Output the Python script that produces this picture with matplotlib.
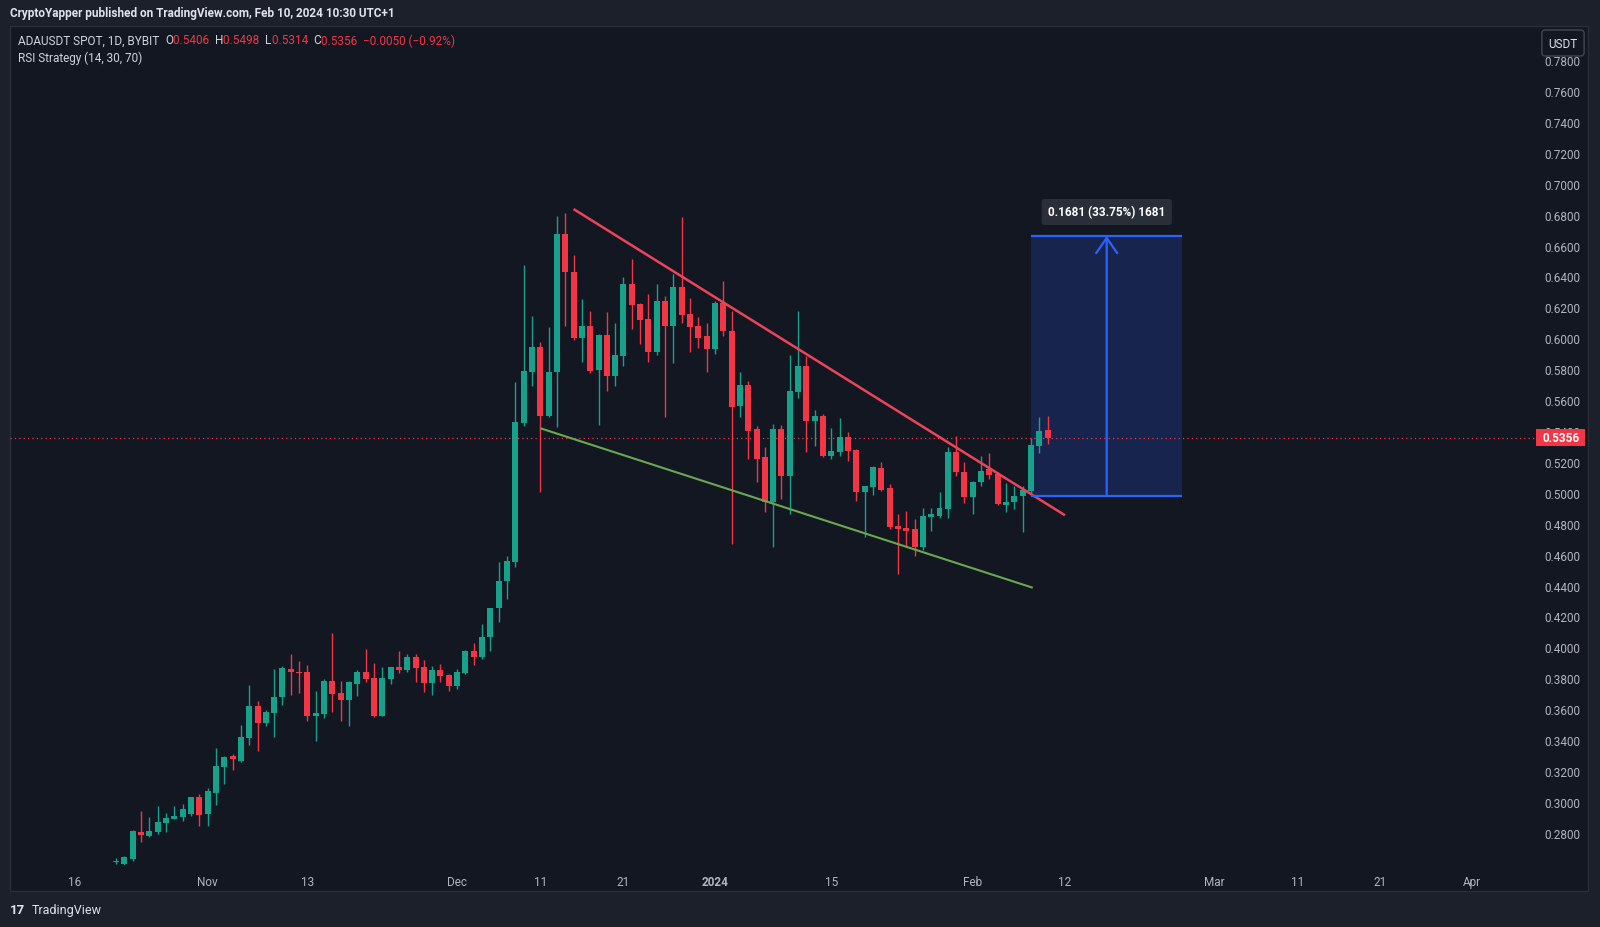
import matplotlib
matplotlib.use("Agg")
import matplotlib.pyplot as plt
import matplotlib.dates as mdates
import matplotlib.patches as patches
import pandas as pd
import numpy as np

plt.rcParams['font.family'] = ['Roboto', 'DejaVu Sans']

# ---- daily candles ADAUSDT (Oct 21 2023 .. Feb 10 2024) ----
dates = pd.date_range("2023-10-21", "2024-02-10", freq="D")
opens = [0.2612, 0.2600, 0.2630, 0.2807, 0.2781, 0.2803, 0.2863, 0.2889, 0.2900, 0.2921, 0.3034,
         0.2921, 0.3061, 0.3223, 0.3299, 0.3266, 0.3411, 0.3622, 0.3510, 0.3573, 0.3676,
         0.3860, 0.3842, 0.3838, 0.3558, 0.3569, 0.3784, 0.3704, 0.3661, 0.3762, 0.3838,
         0.3801, 0.3558, 0.3795, 0.3874, 0.3855, 0.3939, 0.3874, 0.3769, 0.3855, 0.3821,
         0.3752, 0.3834, 0.3978, 0.3941, 0.4064, 0.4252, 0.4427, 0.4550, 0.5451, 0.5784,
         0.5945, 0.5499, 0.5779, 0.6675, 0.6426, 0.5999, 0.6081, 0.5797, 0.6021, 0.5758,
         0.5887, 0.6351, 0.6222, 0.6125, 0.5909, 0.6243, 0.6081, 0.6329, 0.6157, 0.6081, 0.6012,
         0.5930, 0.6228, 0.6049, 0.5560, 0.5698, 0.5413, 0.5230, 0.4943, 0.5413, 0.5111,
         0.5655, 0.5819, 0.5467, 0.5500, 0.5241, 0.5267, 0.5359, 0.5280, 0.5008, 0.5036,
         0.5159, 0.5030, 0.4783, 0.4773, 0.4766, 0.4648, 0.4842, 0.4852, 0.4896, 0.5267, 0.5137,
         0.4971, 0.5068, 0.5154, 0.5122, 0.4922, 0.4939, 0.4978, 0.5014, 0.5305, 0.5406]
highs = [0.2640, 0.2650, 0.2820, 0.2943, 0.2900, 0.2971, 0.2926, 0.2971, 0.2986, 0.3033, 0.3051,
         0.3087, 0.3346, 0.3299, 0.3309, 0.3497, 0.3756, 0.3655, 0.3596, 0.3860, 0.3881,
         0.3957, 0.3913, 0.3885, 0.3719, 0.3795, 0.4092, 0.3784, 0.3784, 0.3855, 0.3989,
         0.3898, 0.3870, 0.3875, 0.3974, 0.3957, 0.3957, 0.3920, 0.3881, 0.3892, 0.3827,
         0.3860, 0.3985, 0.4028, 0.4151, 0.4258, 0.4554, 0.4589, 0.5719, 0.6474, 0.6146,
         0.5978, 0.6071, 0.6789, 0.6810, 0.6539, 0.6254, 0.6178, 0.6030, 0.6168, 0.6099,
         0.6394, 0.6513, 0.6228, 0.6286, 0.6351, 0.6275, 0.6416, 0.6782, 0.6258, 0.6135, 0.6099,
         0.6243, 0.6373, 0.6178, 0.5784, 0.5726, 0.5435, 0.5295, 0.5446, 0.5439, 0.5892,
         0.6179, 0.5888, 0.5538, 0.5510, 0.5418, 0.5482, 0.5396, 0.5284, 0.5047, 0.5176,
         0.5202, 0.5058, 0.4863, 0.4885, 0.4831, 0.4900, 0.4900, 0.5003, 0.5295, 0.5370, 0.5202,
         0.5079, 0.5241, 0.5258, 0.5133, 0.5064, 0.5047, 0.5047, 0.5352, 0.5488, 0.5498]
lows = [0.2600, 0.2595, 0.2620, 0.2738, 0.2770, 0.2795, 0.2803, 0.2889, 0.2878, 0.2910, 0.2846,
        0.2842, 0.2979, 0.3115, 0.3208, 0.3260, 0.3368, 0.3331, 0.3489, 0.3417, 0.3627,
        0.3691, 0.3704, 0.3525, 0.3396, 0.3540, 0.3583, 0.3525, 0.3489, 0.3687, 0.3773,
        0.3548, 0.3553, 0.3762, 0.3834, 0.3842, 0.3778, 0.3713, 0.3691, 0.3778, 0.3719,
        0.3730, 0.3830, 0.3885, 0.3924, 0.3978, 0.4166, 0.4312, 0.4522, 0.5434, 0.5693,
        0.5003, 0.5488, 0.5423, 0.6081, 0.5990, 0.5848, 0.5775, 0.5439, 0.5661, 0.5689,
        0.5818, 0.6060, 0.5963, 0.5848, 0.5892, 0.5488, 0.5840, 0.6099, 0.5909, 0.5935, 0.5784,
        0.5898, 0.6017, 0.4669, 0.5489, 0.5219, 0.5068, 0.4874, 0.4648, 0.4960, 0.4863,
        0.5612, 0.5262, 0.5305, 0.5230, 0.5219, 0.5241, 0.5208, 0.4950, 0.4712, 0.4986,
        0.5015, 0.4766, 0.4475, 0.4648, 0.4589, 0.4632, 0.4755, 0.4835, 0.4835, 0.5111, 0.4935,
        0.4863, 0.5047, 0.5090, 0.4922, 0.4874, 0.4896, 0.4745, 0.5000, 0.5258, 0.5314]
closes = [0.2620, 0.2641, 0.2809, 0.2785, 0.2813, 0.2872, 0.2893, 0.2910, 0.2954, 0.3029, 0.2915,
          0.3072, 0.3234, 0.3294, 0.3277, 0.3417, 0.3622, 0.3510, 0.3579, 0.3676, 0.3864,
          0.3838, 0.3832, 0.3558, 0.3575, 0.3784, 0.3698, 0.3661, 0.3773, 0.3838, 0.3795,
          0.3553, 0.3801, 0.3870, 0.3853, 0.3939, 0.3866, 0.3769, 0.3855, 0.3812, 0.3752,
          0.3842, 0.3978, 0.3941, 0.4064, 0.4254, 0.4427, 0.4556, 0.5456, 0.5790, 0.5945,
          0.5499, 0.5784, 0.6675, 0.6426, 0.5999, 0.6081, 0.5790, 0.6021, 0.5758, 0.5892,
          0.6351, 0.6215, 0.6120, 0.5909, 0.6243, 0.6081, 0.6329, 0.6150, 0.6071, 0.5999, 0.5930,
          0.6228, 0.6049, 0.5558, 0.5698, 0.5403, 0.5219, 0.4943, 0.5413, 0.5111, 0.5661,
          0.5819, 0.5467, 0.5495, 0.5241, 0.5273, 0.5359, 0.5273, 0.5008, 0.5042, 0.5165,
          0.5021, 0.4777, 0.4766, 0.4755, 0.4648, 0.4852, 0.4863, 0.4900, 0.5267, 0.5133, 0.4971,
          0.5072, 0.5144, 0.5116, 0.4928, 0.4943, 0.4982, 0.5021, 0.5309, 0.5402, 0.5356]

last_price = 0.5356
price_ticks = np.round(np.arange(0.28, 0.7801, 0.02), 2)
time_ticks = ["2023-10-16", "2023-11-01", "2023-11-13", "2023-12-01", "2023-12-11", "2023-12-21",
              "2024-01-01", "2024-01-15", "2024-02-01", "2024-02-12", "2024-03-01", "2024-03-11",
              "2024-03-21", "2024-04-01"]
time_labels = ["16", "Nov", "13", "Dec", "11", "21", "2024", "15", "Feb", "12", "Mar", "11", "21", "Apr"]

# drawings: trend lines (date, price anchors) and price range tool
red_line_t = ["2023-12-15 00:00", "2024-02-12 02:00"]
red_line_p = [0.6836, 0.4855]
green_line_t = ["2023-12-11 00:00", "2024-02-08 05:00"]
green_line_p = [0.5418, 0.4386]
range_t = ["2024-02-08 00:00", "2024-02-26 05:00"]
range_p = [0.4981, 0.6662]
range_label = "0.1681 (33.75%) 1681"

BG = "#131722"
OUTER = "#1c202b"
UP = "#17a08a"
DOWN = "#f23645"
AXTXT = "#b2b5be"

W, H = 1600, 928
fig = plt.figure(figsize=(16, 9.28), dpi=100, facecolor=OUTER)

def fx(px):
    return px / W

def fy(py):
    return 1 - py / H

def dnum(lst):
    return mdates.date2num(pd.to_datetime(lst, format="ISO8601"))

# chart container (behind everything)
fig.patches.append(patches.Rectangle((fx(10), fy(892)), fx(1578), (892 - 27) / H,
                                     transform=fig.transFigure, fc=BG, ec="#2a2e39", lw=1, zorder=-5))

ax = fig.add_axes([fx(10), fy(866), fx(1525), (866 - 28) / H])
ax.set_zorder(2)
ax.patch.set_alpha(0)
for s in ax.spines.values():
    s.set_visible(False)

x = mdates.date2num(dates)
o = np.array(opens); h = np.array(highs); l = np.array(lows); c = np.array(closes)
col = np.where(c >= o, UP, DOWN)
ax.vlines(x, l, h, colors=col, lw=1, zorder=3)
body = np.maximum(np.abs(c - o), 0.0008)
ax.bar(x, body, bottom=np.minimum(o, c), width=0.72, color=col, lw=0, zorder=4)

x0 = mdates.date2num(pd.Timestamp("2023-10-16"))
ax.set_xlim(x0 - 7.76, x0 + 175.6)
ax.set_ylim(0.2592, 0.8014)

ax.set_xticks(dnum(time_ticks))
ax.set_xticklabels(time_labels)
for lab in ax.get_xticklabels():
    if lab.get_text() == "2024":
        lab.set_fontweight("bold")
ax.tick_params(axis="x", length=0, pad=7, labelsize=8.5, colors=AXTXT)
ax.yaxis.tick_right()
ax.set_yticks(price_ticks)
ax.set_yticklabels([f"{v:.4f}" for v in price_ticks])
ax.tick_params(axis="y", length=0, pad=7, labelsize=8.5, colors=AXTXT)

# last price line and label
ax.axhline(last_price, color=DOWN, lw=0.9, ls=(0, (1, 2.5)), zorder=2)
ytr = ax.get_yaxis_transform()
lab_w = 49 / 1525          # label box width in axes units
lab_h = 17 * (0.8014 - 0.2592) / 838  # label box height in data units
ax.add_patch(patches.Rectangle((1.0007, last_price - lab_h / 2), lab_w, lab_h, transform=ytr,
                               fc=DOWN, ec="none", clip_on=False, zorder=10))
ax.text(1.0007 + lab_w / 2, last_price, f"{last_price:.4f}", transform=ytr,
        va="center", ha="center", color="white", fontsize=8.5, fontweight="bold", clip_on=False,
        zorder=11)

# trend lines
ax.plot(dnum(red_line_t), red_line_p, color="#ee4359", lw=1.8, zorder=5, solid_capstyle="butt")
ax.plot(dnum(green_line_t), green_line_p, color="#6aa84f", lw=1.5, zorder=5, solid_capstyle="butt")

# price range tool
rx = dnum(range_t)
ax.add_patch(patches.Rectangle((rx[0], range_p[0]), rx[1] - rx[0], range_p[1] - range_p[0],
                               fc="#2962ff", alpha=0.2, ec="none", zorder=1))
ax.hlines(range_p, rx[0], rx[1], color="#2962ff", lw=1.6, zorder=6)
xm = (rx[0] + rx[1]) / 2
ax.annotate("", xy=(xm, range_p[1]), xytext=(xm, range_p[0]),
            arrowprops=dict(arrowstyle="->,head_length=0.55,head_width=0.38", color="#2962ff", lw=1.6,
                            shrinkA=0, shrinkB=0, mutation_scale=20), zorder=6)
ax.text(xm, range_p[1] + 0.0155, range_label, ha="center", va="center", color="white",
        fontsize=8.5, fontweight="bold", zorder=7,
        bbox=dict(boxstyle="round,pad=0.55,rounding_size=0.25", fc="#2a2e39", ec="none"))

# header texts
fig.text(fx(10), fy(14), "CryptoYapper published on TradingView.com, Feb 10, 2024 10:30 UTC+1",
         color="#e0e3eb", fontsize=8.5, fontweight="bold", va="center", ha="left")

renderer = fig.canvas.get_renderer()

def seq_text(px, py, parts, size=8.5):
    xpos = px
    for txt, colr in parts:
        t = fig.text(fx(xpos), fy(py), txt, color=colr, fontsize=size, va="center", ha="left")
        bb = t.get_window_extent(renderer=renderer)
        xpos += bb.width

LBL = "#d1d4dc"
seq_text(18, 41, [("ADAUSDT SPOT, 1D, BYBIT  ", LBL), ("O", LBL), ("0.5406  ", DOWN), ("H", LBL),
                  ("0.5498  ", DOWN), ("L", LBL), ("0.5314  ", DOWN), ("C", LBL),
                  ("0.5356  \u22120.0050 (\u22120.92%)", DOWN)])
fig.text(fx(18), fy(58), "RSI Strategy (14, 30, 70)", color=LBL, fontsize=8.5, va="center", ha="left")

# currency button
fig.text(fx(1563), fy(44), "USDT", color="#e0e3eb", fontsize=8.5, ha="center", va="center", zorder=10,
         bbox=dict(boxstyle="round,pad=0.55,rounding_size=0.3", fc=BG, ec="#434651", lw=1))

# footer
fig.text(fx(10), fy(911), "17", color="#e0e3eb", fontsize=9.5, fontweight="bold", va="center", ha="left")
fig.text(fx(32), fy(911), "TradingView", color="#e0e3eb", fontsize=9, va="center", ha="left")

fig.savefig("out.png", dpi=100, facecolor=OUTER)
